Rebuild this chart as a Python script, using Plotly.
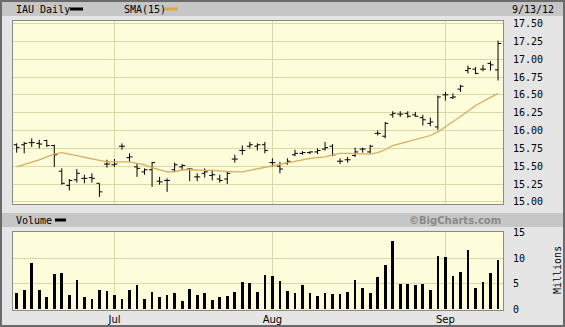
import plotly.graph_objects as go

dates = [
    "2012-06-13", "2012-06-14", "2012-06-15", "2012-06-18", "2012-06-19", "2012-06-20", "2012-06-21",
    "2012-06-22", "2012-06-25", "2012-06-26", "2012-06-27", "2012-06-28", "2012-06-29",
    "2012-07-02", "2012-07-03", "2012-07-05", "2012-07-06", "2012-07-09", "2012-07-10", "2012-07-11",
    "2012-07-12", "2012-07-13", "2012-07-16", "2012-07-17", "2012-07-18", "2012-07-19", "2012-07-20",
    "2012-07-23", "2012-07-24", "2012-07-25", "2012-07-26", "2012-07-27", "2012-07-30", "2012-07-31",
    "2012-08-01", "2012-08-02", "2012-08-03", "2012-08-06", "2012-08-07", "2012-08-08", "2012-08-09",
    "2012-08-10", "2012-08-13", "2012-08-14", "2012-08-15", "2012-08-16", "2012-08-17", "2012-08-20",
    "2012-08-21", "2012-08-22", "2012-08-23", "2012-08-24", "2012-08-27", "2012-08-28", "2012-08-29",
    "2012-08-30", "2012-08-31",
    "2012-09-04", "2012-09-05", "2012-09-06", "2012-09-07", "2012-09-10", "2012-09-11", "2012-09-12",
    "2012-09-13",
]

opens = [15.80, 15.80, 15.83, 15.82, 15.86, 15.79, 15.43, 15.23, 15.31, 15.33, 15.34, 15.26, 15.53,
         15.52, 15.78, 15.62, 15.49, 15.42, 15.45, 15.29, 15.30, 15.45, 15.49, 15.46, 15.35, 15.40, 15.37,
         15.32, 15.32, 15.60, 15.72, 15.78, 15.78, 15.80,
         15.55, 15.50, 15.54, 15.66, 15.68, 15.69, 15.70, 15.74, 15.78, 15.57, 15.59, 15.65, 15.74, 15.70,
         15.96, 15.92, 16.22, 16.23, 16.24, 16.22, 16.18, 16.10, 16.05,
         16.50, 16.46, 16.58, 16.84, 16.86, 16.86, 16.94, 16.85]
highs = [15.82, 15.84, 15.89, 15.87, 15.87, 15.80, 15.47, 15.32, 15.46, 15.38, 15.40, 15.26, 15.59,
         15.60, 15.82, 15.68, 15.54, 15.47, 15.56, 15.35, 15.33, 15.55, 15.53, 15.47, 15.40, 15.47, 15.45,
         15.38, 15.42, 15.66, 15.79, 15.84, 15.82, 15.84,
         15.61, 15.56, 15.61, 15.73, 15.71, 15.71, 15.75, 15.84, 15.81, 15.61, 15.63, 15.76, 15.76, 15.80,
         16.00, 16.12, 16.27, 16.27, 16.27, 16.26, 16.22, 16.18, 16.49,
         16.54, 16.52, 16.64, 16.91, 16.89, 16.92, 16.97, 17.26]
lows = [15.69, 15.68, 15.77, 15.75, 15.77, 15.49, 15.24, 15.16, 15.27, 15.26, 15.27, 15.07, 15.48,
        15.49, 15.73, 15.56, 15.35, 15.38, 15.21, 15.24, 15.14, 15.42, 15.44, 15.29, 15.29, 15.34, 15.30,
        15.27, 15.25, 15.55, 15.66, 15.75, 15.72, 15.68,
        15.49, 15.40, 15.52, 15.64, 15.66, 15.67, 15.67, 15.72, 15.64, 15.53, 15.55, 15.63, 15.69, 15.68,
        15.93, 15.89, 16.18, 16.19, 16.18, 16.19, 16.07, 16.06, 16.01,
        16.42, 16.44, 16.54, 16.80, 16.79, 16.83, 16.84, 16.70]
closes = [15.76, 15.82, 15.83, 15.81, 15.79, 15.66, 15.26, 15.30, 15.40, 15.33, 15.33, 15.14, 15.53,
          15.53, 15.78, 15.63, 15.47, 15.45, 15.55, 15.28, 15.30, 15.52, 15.51, 15.46, 15.35, 15.42, 15.38,
          15.30, 15.40, 15.60, 15.72, 15.80, 15.80, 15.72,
          15.55, 15.46, 15.57, 15.68, 15.69, 15.70, 15.72, 15.76, 15.66, 15.57, 15.59, 15.70, 15.74, 15.78,
          15.96, 16.10, 16.24, 16.23, 16.20, 16.20, 16.15, 16.12, 16.47,
          16.50, 16.47, 16.62, 16.87, 16.80, 16.86, 16.92, 17.22]
sma15 = [15.49, 15.52, 15.56, 15.59, 15.63, 15.67, 15.69, 15.67, 15.65, 15.63, 15.60, 15.58, 15.56,
         15.56, 15.56, 15.56, 15.54, 15.52, 15.48, 15.45, 15.42, 15.42, 15.45, 15.45, 15.44, 15.44, 15.44,
         15.43, 15.42, 15.42, 15.42, 15.44, 15.46, 15.49,
         15.51, 15.53, 15.55, 15.57, 15.59, 15.61, 15.62, 15.63, 15.66, 15.68, 15.68, 15.68, 15.67, 15.67,
         15.69, 15.73, 15.79, 15.82, 15.84, 15.87, 15.90, 15.93, 15.98,
         16.05, 16.12, 16.19, 16.27, 16.35, 16.41, 16.46, 16.52]
volume = [3.3, 3.85, 9.0, 3.7, 2.4, 6.9, 7.05, 2.9, 5.8, 2.4, 2.05, 3.85, 3.5,
          2.9, 2.05, 3.7, 4.8, 2.05, 3.45, 2.4, 2.9, 3.3, 1.7, 4.0, 2.9, 3.3, 1.85, 2.4, 2.55, 3.45,
          5.4, 5.2, 3.45, 6.7,
          6.5, 5.6, 3.65, 3.3, 4.8, 3.3, 2.55, 3.3, 3.1, 3.1, 3.45, 5.7, 4.2, 3.3, 6.3, 8.7, 13.3,
          5.0, 5.0, 4.8, 5.0, 3.85, 10.45,
          10.25, 6.5, 7.3, 11.5, 4.2, 5.4, 7.1, 9.7]

month_ticks = ["2012-07-02", "2012-08-01", "2012-09-04"]
month_labels = ["Jul", "Aug", "Sep"]
price_ticks = [15.00, 15.25, 15.50, 15.75, 16.00, 16.25, 16.50, 16.75, 17.00, 17.25, 17.50]
volume_ticks = [0, 5, 10, 15]

W, H = 565, 327
ML, MR, MT, MB = 13, 62, 21, 17
PW = W - ML - MR
PH = H - MT - MB


def px(x):
    return (x - ML) / PW


def py(y):
    return (H - MB - y) / PH


MONO = "DejaVu Sans Mono"
PLOT_BG = "#fdfddc"
GRID = "#d9d9a6"
HEAD = "#c6c6c6"
SMA_COL = "#dcaa5c"

fig = go.Figure()
fig.add_trace(go.Ohlc(
    x=dates, open=opens, high=highs, low=lows, close=closes,
    increasing=dict(line=dict(color="black", width=1)),
    decreasing=dict(line=dict(color="black", width=1)),
    tickwidth=0.4, xaxis="x", yaxis="y", hoverinfo="skip",
))
fig.add_trace(go.Scatter(
    x=dates, y=sma15, mode="lines", line=dict(color=SMA_COL, width=1.3),
    xaxis="x", yaxis="y", hoverinfo="skip",
))
fig.add_trace(go.Bar(
    x=dates, y=volume, marker=dict(color="black", line=dict(width=0)), width=0.36,
    xaxis="x2", yaxis="y2", hoverinfo="skip",
))

xr = [-0.49, 64.66]
axis_common = dict(showline=True, linecolor="#8a8a8a", linewidth=1, mirror=True,
                   gridcolor=GRID, gridwidth=1, zeroline=False, ticks="", automargin=False)
fig.update_layout(
    width=W, height=H, autosize=False,
    margin=dict(l=ML, r=MR, t=MT, b=MB, pad=0),
    paper_bgcolor="#e5e5e5", plot_bgcolor=PLOT_BG,
    showlegend=False, bargap=0,
    font=dict(family=MONO, size=10, color="black"),
    xaxis=dict(type="category", range=xr, domain=[0, 1], anchor="y",
               tickmode="array", tickvals=month_ticks, ticktext=month_labels,
               showticklabels=False, rangeslider=dict(visible=False), **axis_common),
    yaxis=dict(domain=[(H - MB - 204) / PH, 1], range=[14.97, 17.535], side="right",
               tickmode="array", tickvals=price_ticks,
               ticktext=[f"{v:.2f}" for v in price_ticks], ticklabelstandoff=7,
               anchor="x", **axis_common),
    xaxis2=dict(type="category", range=xr, domain=[0, 1], anchor="y2", matches="x",
                tickmode="array", tickvals=month_ticks, ticktext=month_labels,
                showticklabels=True, ticklabelstandoff=0,
                tickfont=dict(family="DejaVu Sans", size=10),
                **axis_common),
    yaxis2=dict(domain=[0, (H - MB - 232) / PH], range=[-0.1, 15.05], side="right",
                tickmode="array", tickvals=volume_ticks, ticklabelstandoff=7,
                anchor="x2", **axis_common),
)

shapes = []
# header bands
shapes.append(dict(type="rect", xref="paper", yref="paper", x0=px(0), x1=px(W), y0=py(16), y1=py(0),
                   fillcolor=HEAD, line=dict(width=0), layer="below"))
shapes.append(dict(type="rect", xref="paper", yref="paper", x0=px(0), x1=px(W), y0=py(227), y1=py(213),
                   fillcolor=HEAD, line=dict(width=0), layer="below"))
# legend samples
shapes.append(dict(type="rect", xref="paper", yref="paper", x0=px(70), x1=px(83), y0=py(10.5), y1=py(7.5),
                   fillcolor="black", line=dict(width=0)))
shapes.append(dict(type="rect", xref="paper", yref="paper", x0=px(165), x1=px(178), y0=py(10.5), y1=py(7.5),
                   fillcolor="#e0a840", line=dict(width=0)))
shapes.append(dict(type="rect", xref="paper", yref="paper", x0=px(55), x1=px(66), y0=py(221.5), y1=py(218.5),
                   fillcolor="black", line=dict(width=0)))
# outer frame
shapes.append(dict(type="rect", xref="paper", yref="paper", x0=px(1), x1=px(W - 1), y0=py(H - 1), y1=py(1),
                   line=dict(color="#6a6a6a", width=2), fillcolor="rgba(0,0,0,0)"))
fig.update_layout(shapes=shapes)

ann = [
    dict(text="IAU Daily", x=px(14), y=py(9), xanchor="left", yanchor="middle"),
    dict(text="SMA(15)", x=px(122), y=py(9), xanchor="left", yanchor="middle"),
    dict(text="9/13/12", x=px(510), y=py(9), xanchor="left", yanchor="middle"),
    dict(text="Volume", x=px(14), y=py(220), xanchor="left", yanchor="middle"),
    dict(text="<b>©BigCharts.com</b>", x=px(503), y=py(220), xanchor="right", yanchor="middle",
         font=dict(family="DejaVu Sans", size=10, color="#8a8a8a")),
    dict(text="Millions", x=px(557), y=py(270), xanchor="center", yanchor="middle", textangle=-90),
]
for a in ann:
    a.update(xref="paper", yref="paper", showarrow=False)
    a.setdefault("font", dict(family=MONO, size=10, color="black"))
fig.update_layout(annotations=ann)

fig.write_html("out.html", config={"responsive": False})
